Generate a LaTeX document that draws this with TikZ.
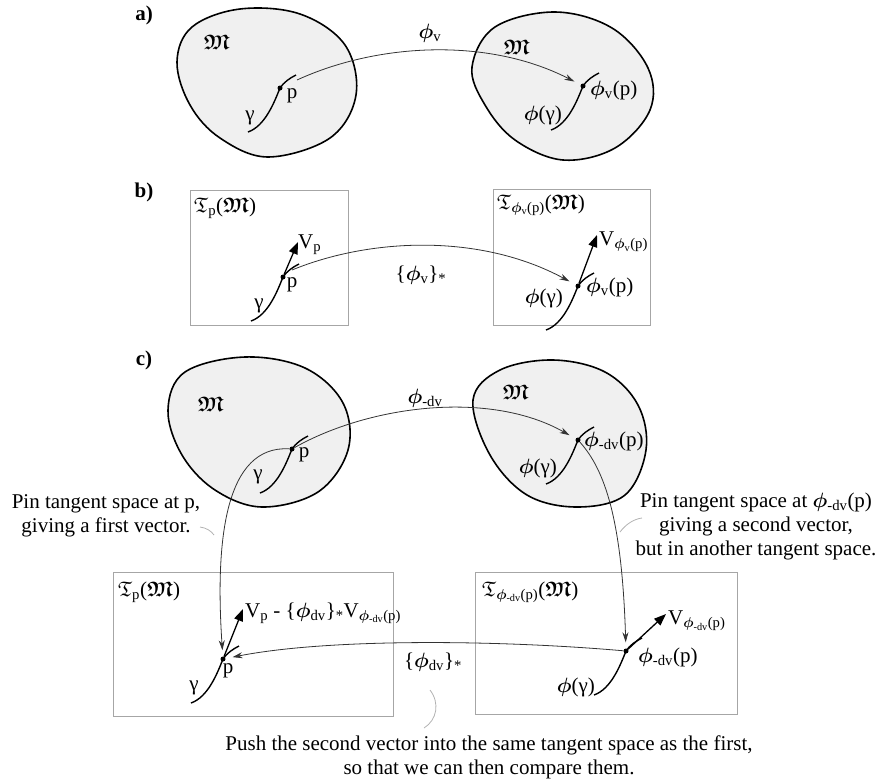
\documentclass[tikz,border=0pt]{standalone}
\usepackage{fontspec}
\setmainfont{Liberation Serif}
\usepackage{amsmath,amssymb}
\usetikzlibrary{arrows.meta}
\newcommand{\bphi}{\ensuremath{\boldsymbol{\phi}}}
\newcommand{\frM}{\ensuremath{\boldsymbol{\mathfrak{M}}}}
\newcommand{\frT}{\ensuremath{\mathfrak{T}}}
\tikzset{gam/.pic={\draw[line width=1.4pt, black] (-32,44) .. controls (-15,38) and (-6,15) .. (0,0) .. controls (4,-6) and (10,-10) .. (16,-13);}}
\begin{document}
\begin{tikzpicture}[x=1pt,y=-1pt,
  txt/.style={font=\fontsize{21}{24}\selectfont, inner sep=1pt},
  blob/.style={draw=black, line width=1.6pt, fill=gray!12},
  tbox/.style={draw=gray!70, line width=1pt},
  conn/.style={draw=black!80, line width=0.8pt, -{Stealth[length=10pt,width=6pt]}},
  tickl/.style={draw=gray!60, line width=0.8pt},
  vec/.style={line width=1.3pt, -{Triangle[length=12pt,width=9pt]}},
  dotn/.style={circle, fill=black, inner sep=0pt, minimum size=5pt},
  lbl/.style={font=\fontsize{21}{24}\selectfont\bfseries, inner sep=0pt}
]
\useasboundingbox (0,0) rectangle (887,780);

% ---------- a) ----------
\node[lbl] (la) at (144,15) {a)};
\draw[blob] plot[smooth cycle, tension=0.6] coordinates {(177,62) (192,27) (240,9) (300,14) (345,45) (356,95) (330,138) (268,157) (220,138) (190,105)};
\draw[blob] plot[smooth cycle, tension=0.6] coordinates {(472,67) (495,27) (555,12) (612,28) (648,68) (650,110) (615,148) (563,160) (515,140) (485,105)};
\pic at (280,88) {gam};
\pic at (583,86) {gam};
\node[dotn] (pa) at (280,88) {};
\node[dotn] (qa) at (583,86) {};
\coordinate (ea) at (297,80);
\node[txt] (ma1) at (217,42) {\frM};
\node[txt] (ma2) at (517,47) {\frM};
\node[txt] (pla) at (292,96) {p};
\node[txt] (ga) at (250,118) {γ};
\node[txt, anchor=west] (qla) at (589,90) {\bphi\textsubscript{v}(p)};
\node[txt, anchor=east] (gqa) at (563,115) {\bphi(γ)};
\node[txt] (fa) at (430,33) {\bphi\textsubscript{v}};
\draw[conn, shorten >=7pt] (ea) .. controls (380,42) and (490,38) .. (qa);

% ---------- b) ----------
\node[lbl] (lb) at (144,192) {b)};
\draw[tbox] (190,190) rectangle (348,325);
\draw[tbox] (493,189) rectangle (650,325);
\pic at (283,277) {gam};
\pic at (578,286) {gam};
\node[dotn] (pb) at (283,277) {};
\node[dotn] (qb) at (578,286) {};
\coordinate (vb1) at (298,242);
\coordinate (vb2) at (597,235);
\draw[vec] (pb) -- (vb1);
\draw[vec] (qb) -- (vb2);
\node[txt, anchor=west] (tb1) at (193,208) {\frT\textsubscript{p}(\frM)};
\node[txt, anchor=west] (tb2) at (496,205) {\frT\textsubscript{\bphi\textsubscript{v}(p)}(\frM)};
\node[txt, anchor=west] (vlb1) at (297,245) {V\textsubscript{p}};
\node[txt, anchor=west] (vlb2) at (598,242) {V\textsubscript{\bphi\textsubscript{v}(p)}};
\node[txt] (plb) at (292,285) {p};
\node[txt] (gb) at (259,306) {γ};
\node[txt, anchor=west] (qlb) at (585,287) {\bphi\textsubscript{v}(p)};
\node[txt, anchor=east] (gqb) at (564,298) {\bphi(γ)};
\node[txt] (fb) at (421,275) {\{\bphi\textsubscript{v}\}\textsubscript{*}};
\coordinate (eb) at (292,270);
\draw[conn, shorten >=7pt] (eb) .. controls (370,238) and (480,233) .. (qb);

% ---------- c) ----------
\node[lbl] (lc) at (144,360) {c)};
\draw[blob] plot[smooth cycle, tension=0.6] coordinates {(168,410) (185,372) (245,357) (305,368) (343,403) (348,450) (318,492) (262,507) (215,490) (182,455)};
\draw[blob] plot[smooth cycle, tension=0.6] coordinates {(473,400) (500,370) (553,360) (605,372) (638,405) (646,450) (625,495) (577,507) (527,495) (490,455)};
\pic at (292,449) {gam};
\pic at (578,440) {gam};
\node[dotn] (pc) at (292,449) {};
\node[dotn] (qc) at (578,440) {};
\node[txt] (mc1) at (211,404) {\frM};
\node[txt] (mc2) at (516,392) {\frM};
\node[txt] (plc) at (304,455) {p};
\node[txt] (gc) at (258,477) {γ};
\node[txt, anchor=west] (qlc) at (583,441) {\bphi\textsubscript{-dv}(p)};
\node[txt, anchor=east] (gqc) at (558,468) {\bphi(γ)};
\node[txt] (fc) at (425,398) {\bphi\textsubscript{-dv}};
\draw[conn, shorten >=7pt] (pc) .. controls (370,405) and (490,390) .. (qc);

% bottom boxes
\draw[tbox] (113,572) rectangle (393,716);
\draw[tbox] (475,572) rectangle (737,714);
\pic at (223,659) {gam};
\pic at (626,651) {gam};
\node[dotn] (pd) at (223,659) {};
\node[dotn] (qd) at (626,651) {};
\coordinate (vd1) at (243,609);
\coordinate (vd2) at (666,614);
\draw[vec] (pd) -- (vd1);
\draw[vec] (qd) -- (vd2);
\node[txt, anchor=west] (td1) at (117,592) {\frT\textsubscript{p}(\frM)};
\node[txt, anchor=west] (td2) at (481,592) {\frT\textsubscript{\bphi\textsubscript{-dv}(p)}(\frM)};
\node[txt, anchor=west] (vld1) at (244,613) {V\textsubscript{p} - \{\bphi\textsubscript{dv}\}\textsubscript{*}V\textsubscript{\bphi\textsubscript{-dv}(p)}};
\node[txt, anchor=west] (vld2) at (667,621) {V\textsubscript{\bphi\textsubscript{-dv}(p)}};
\node[txt] (pld) at (228,671) {p};
\node[txt] (gd) at (194,688) {γ};
\node[txt, anchor=west] (qld) at (637,657) {\bphi\textsubscript{-dv}(p)};
\node[txt, anchor=east] (gqd) at (596,687) {\bphi(γ)};
\node[txt] (fd) at (433,662) {\{\bphi\textsubscript{dv}\}\textsubscript{*}};

% pin connectors
\draw[conn, shorten >=6pt] (pc) .. controls (225,445) and (215,540) .. (pd);
\draw[conn, shorten >=6pt] (qc) .. controls (605,470) and (622,520) .. (qd);
% push connector
\draw[conn, shorten >=7pt] (qd) .. controls (500,640) and (330,638) .. (pd);

% annotations
\node[txt, align=center] (nl) at (106,516) {Pin tangent space at p,\\giving a first vector.};
\node[txt, align=center] (nr) at (756,526) {Pin tangent space at \bphi\textsubscript{-dv}(p)\\giving a second vector,\\but in another tangent space.};
\node[txt, align=center] (nb) at (489,757) {Push the second vector into the same tangent space as the first,\\so that we can then compare them.};
\coordinate (k1a) at (200,527);
\coordinate (k1b) at (214,535);
\draw[tickl] (k1a) .. controls (207,528) and (211,531) .. (k1b);
\coordinate (k2a) at (620,532);
\coordinate (k2b) at (642,518);
\draw[tickl] (k2a) .. controls (626,524) and (634,519) .. (k2b);
\coordinate (k3a) at (430,690);
\coordinate (k3b) at (424,728);
\draw[tickl] (k3a) .. controls (440,703) and (437,720) .. (k3b);
\end{tikzpicture}
\end{document}
